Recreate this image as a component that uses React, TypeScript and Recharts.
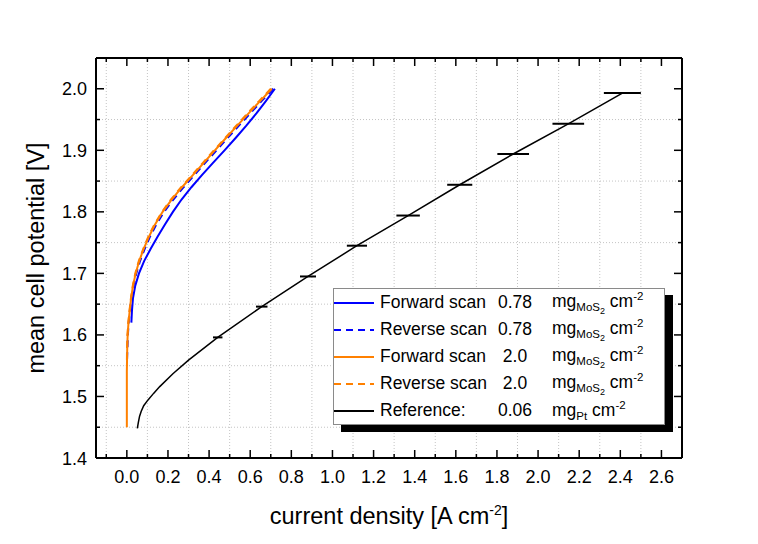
import React from "react";
import {
  ComposedChart,
  Line,
  Scatter,
  ErrorBar,
  XAxis,
  YAxis,
  CartesianGrid,
  Legend,
} from "recharts";

const FONT = "'Liberation Sans', Arial, Helvetica, sans-serif";

// 0.78 mg MoS2 forward scan
const fwd078J = [0.022, 0.025, 0.03, 0.041, 0.059, 0.084, 0.116, 0.15, 0.186, 0.224, 0.266, 0.314, 0.366, 0.42, 0.475, 0.529, 0.581, 0.63, 0.676, 0.72];
const fwd078V = [1.62, 1.64, 1.66, 1.68, 1.7, 1.72, 1.74, 1.76, 1.78, 1.8, 1.82, 1.84, 1.86, 1.88, 1.9, 1.92, 1.94, 1.96, 1.98, 2.0];

// 0.78 mg MoS2 reverse scan
const rev078J = [0.712, 0.655, 0.6, 0.545, 0.49, 0.436, 0.382, 0.329, 0.276, 0.226, 0.181, 0.144, 0.113, 0.087, 0.064, 0.046, 0.032, 0.022, 0.015, 0.009, 0.005, 0.003, 0.001];
const rev078V = [2.0, 1.98, 1.96, 1.94, 1.92, 1.9, 1.88, 1.86, 1.84, 1.82, 1.8, 1.78, 1.76, 1.74, 1.72, 1.7, 1.68, 1.66, 1.64, 1.62, 1.6, 1.58, 1.56];

// 2.0 mg MoS2 forward scan
const fwd20J = [0.0, 0.0, 0.0, 0.001, 0.002, 0.004, 0.008, 0.014, 0.021, 0.03, 0.043, 0.06, 0.082, 0.108, 0.138, 0.174, 0.218, 0.268, 0.322, 0.375, 0.428, 0.482, 0.537, 0.592, 0.648, 0.705];
const fwd20V = [1.45, 1.5, 1.54, 1.56, 1.58, 1.6, 1.62, 1.64, 1.66, 1.68, 1.7, 1.72, 1.74, 1.76, 1.78, 1.8, 1.82, 1.84, 1.86, 1.88, 1.9, 1.92, 1.94, 1.96, 1.98, 2.0];

// 2.0 mg MoS2 reverse scan
const rev20J = [0.7, 0.643, 0.587, 0.532, 0.478, 0.424, 0.371, 0.318, 0.264, 0.214, 0.171, 0.135, 0.105, 0.08, 0.058, 0.041, 0.029, 0.02, 0.013, 0.007, 0.003, 0.001, 0.0];
const rev20V = [2.0, 1.98, 1.96, 1.94, 1.92, 1.9, 1.88, 1.86, 1.84, 1.82, 1.8, 1.78, 1.76, 1.74, 1.72, 1.7, 1.68, 1.66, 1.64, 1.62, 1.6, 1.58, 1.55];

// Pt reference, with x error bars on the last nine points
const refJ = [0.051, 0.056, 0.062, 0.07, 0.082, 0.102, 0.13, 0.16, 0.224, 0.3, 0.442, 0.656, 0.881, 1.119, 1.368, 1.619, 1.879, 2.147, 2.41];
const refV = [1.448, 1.458, 1.468, 1.476, 1.485, 1.494, 1.505, 1.516, 1.537, 1.559, 1.596, 1.646, 1.695, 1.745, 1.794, 1.844, 1.894, 1.943, 1.993];
const refErr = [0.023, 0.028, 0.039, 0.049, 0.057, 0.061, 0.077, 0.077, 0.09];

const xTicks = [-0.1, 0, 0.1, 0.2, 0.3, 0.4, 0.5, 0.6, 0.7, 0.8, 0.9, 1.0, 1.1, 1.2, 1.3, 1.4, 1.5, 1.6, 1.7, 1.8, 1.9, 2.0, 2.1, 2.2, 2.3, 2.4, 2.5, 2.6, 2.7];
const yTicks = [1.4, 1.45, 1.5, 1.55, 1.6, 1.65, 1.7, 1.75, 1.8, 1.85, 1.9, 1.95, 2.0, 2.05];
const xGrid = [-0.1, 0.1, 0.3, 0.5, 0.7, 0.9, 1.1, 1.3, 1.5, 1.7, 1.9, 2.1, 2.3, 2.5];
const yGrid = [1.45, 1.55, 1.65, 1.75, 1.85, 1.95];

const legendNames = ["Forward scan", "Reverse scan", "Forward scan", "Reverse scan", "Reference:"];
const legendLoads = ["0.78", "0.78", "2.0", "2.0", "0.06"];
const legendCatalyst = ["MoS", "MoS", "MoS", "MoS", "Pt"];
const legendColors = ["#0000ff", "#0000ff", "#ff8000", "#ff8000", "#000000"];
const legendDashed = [false, true, false, true, false];

const toPoints = (js: number[], vs: number[]) => js.map((j, i) => ({ j, v: vs[i] }));
const errStart = refJ.length - refErr.length;
const refBars = refErr.map((err, i) => ({ j: refJ[errStart + i], v: refV[errStart + i], err }));

const isMajorX = (v: number) => Math.round(v * 10) % 2 === 0;
const isMajorY = (v: number) => Math.round(v * 100) % 10 === 0;
const MAJOR = 8;
const MINOR = 4;

const BottomTick = (props: any) => {
  const { x, y, payload } = props;
  const major = isMajorX(payload.value);
  return (
    <g>
      <line x1={x} x2={x} y1={y} y2={y - (major ? MAJOR : MINOR)} stroke="#000" strokeWidth={1.5} />
      {major && (
        <text x={x} y={y + 25} textAnchor="middle" fontSize={18} fontFamily={FONT} fill="#000">
          {payload.value.toFixed(1)}
        </text>
      )}
    </g>
  );
};

const TopTick = (props: any) => {
  const { x, y, payload } = props;
  const major = isMajorX(payload.value);
  return <line x1={x} x2={x} y1={y} y2={y + (major ? MAJOR : MINOR)} stroke="#000" strokeWidth={1.5} />;
};

const LeftTick = (props: any) => {
  const { x, y, payload } = props;
  const major = isMajorY(payload.value);
  return (
    <g>
      <line x1={x} x2={x + (major ? MAJOR : MINOR)} y1={y} y2={y} stroke="#000" strokeWidth={1.5} />
      {major && (
        <text x={x - 9} y={y + 6.5} textAnchor="end" fontSize={18} fontFamily={FONT} fill="#000">
          {payload.value.toFixed(1)}
        </text>
      )}
    </g>
  );
};

const RightTick = (props: any) => {
  const { x, y, payload } = props;
  const major = isMajorY(payload.value);
  return <line x1={x} x2={x - (major ? MAJOR : MINOR)} y1={y} y2={y} stroke="#000" strokeWidth={1.5} />;
};

const XTitle = (props: any) => {
  const vb = props.viewBox;
  return (
    <text x={vb.x + vb.width / 2} y={vb.y + 66} textAnchor="middle" fontSize={23.5} fontFamily={FONT} fill="#000">
      current density [A cm
      <tspan dy={-9} fontSize={14}>-2</tspan>
      <tspan dy={9}>]</tspan>
    </text>
  );
};

const YTitle = (props: any) => {
  const vb = props.viewBox;
  const x = vb.x - 2;
  const y = vb.y + vb.height / 2;
  return (
    <text x={x} y={y} transform={`rotate(-90, ${x}, ${y})`} textAnchor="middle" fontSize={23.5} fontFamily={FONT} fill="#000">
      mean cell potential [V]
    </text>
  );
};

const LegendBox = () => (
  <div
    style={{
      boxSizing: "border-box",
      width: 332,
      height: 137,
      background: "#fff",
      border: "1px solid #8a8a8a",
      boxShadow: "8px 7px 0 #000",
      fontFamily: FONT,
      fontSize: 17.5,
      color: "#000",
    }}
  >
    {legendNames.map((name, i) => (
      <div key={i} style={{ display: "flex", alignItems: "center", height: 27, whiteSpace: "nowrap" }}>
        <svg width={40} height={10} style={{ flex: "none" }}>
          <line
            x1={0}
            x2={40}
            y1={5}
            y2={5}
            stroke={legendColors[i]}
            strokeWidth={2}
            strokeDasharray={legendDashed[i] ? "7 5" : undefined}
          />
        </svg>
        <span style={{ width: 110, marginLeft: 6, flex: "none" }}>{name}</span>
        <span style={{ width: 50, textAlign: "center", flex: "none" }}>{legendLoads[i]}</span>
        <span style={{ marginLeft: 12 }}>
          mg
          <sub style={{ fontSize: 11.5, verticalAlign: -4 }}>
            {legendCatalyst[i]}
            {legendCatalyst[i] === "MoS" && <sub style={{ fontSize: 9, verticalAlign: -3 }}>2</sub>}
          </sub>{" "}
          cm<sup style={{ fontSize: 11.5, verticalAlign: 7 }}>-2</sup>
        </span>
      </div>
    ))}
  </div>
);

export default function App() {
  return (
    <div style={{ position: "absolute", left: 0, top: 0, width: 758, height: 544, background: "#fff" }}>
      <ComposedChart width={758} height={544} margin={{ top: 57, right: 75, bottom: 46, left: 46 }}>
        <CartesianGrid
          stroke="#c4c4c4"
          strokeDasharray="1 2"
          verticalValues={xGrid}
          horizontalValues={yGrid}
        />
        <XAxis
          type="number"
          dataKey="j"
          domain={[-0.15, 2.7]}
          allowDataOverflow
          ticks={xTicks}
          interval={0}
          height={40}
          tickSize={0}
          tickMargin={0}
          tickLine={false}
          tick={BottomTick}
          axisLine={{ stroke: "#000", strokeWidth: 2 }}
          label={XTitle}
        />
        <XAxis
          xAxisId="top"
          orientation="top"
          type="number"
          dataKey="j"
          domain={[-0.15, 2.7]}
          allowDataOverflow
          ticks={xTicks}
          interval={0}
          height={1}
          tickSize={0}
          tickMargin={0}
          tickLine={false}
          tick={TopTick}
          axisLine={{ stroke: "#000", strokeWidth: 2 }}
        />
        <YAxis
          type="number"
          dataKey="v"
          domain={[1.4, 2.05]}
          allowDataOverflow
          ticks={yTicks}
          interval={0}
          width={50}
          tickSize={0}
          tickMargin={0}
          tickLine={false}
          tick={LeftTick}
          axisLine={{ stroke: "#000", strokeWidth: 2 }}
          label={YTitle}
        />
        <YAxis
          yAxisId="right"
          orientation="right"
          type="number"
          dataKey="v"
          domain={[1.4, 2.05]}
          allowDataOverflow
          ticks={yTicks}
          interval={0}
          width={1}
          tickSize={0}
          tickMargin={0}
          tickLine={false}
          tick={RightTick}
          axisLine={{ stroke: "#000", strokeWidth: 2 }}
        />
        <Line data={toPoints(refJ, refV)} dataKey="v" type="linear" stroke="#000" strokeWidth={1.5} dot={false} isAnimationActive={false} />
        <Scatter
          data={refBars}
          dataKey="v"
          xAxisId="top"
          yAxisId="right"
          shape={() => <g />}
          isAnimationActive={false}
        >
          <ErrorBar dataKey="err" direction="x" width={0} stroke="#000" strokeWidth={2} />
        </Scatter>
        <Line data={toPoints(fwd078J, fwd078V)} dataKey="v" type="linear" stroke="#0000ff" strokeWidth={2} dot={false} isAnimationActive={false} />
        <Line data={toPoints(rev078J, rev078V)} dataKey="v" type="linear" stroke="#0000ff" strokeWidth={2} strokeDasharray="7 5" dot={false} isAnimationActive={false} />
        <Line data={toPoints(fwd20J, fwd20V)} dataKey="v" type="linear" stroke="#ff8000" strokeWidth={2} dot={false} isAnimationActive={false} />
        <Line data={toPoints(rev20J, rev20V)} dataKey="v" type="linear" stroke="#ff8000" strokeWidth={2} strokeDasharray="7 5" dot={false} isAnimationActive={false} />
        <Legend
          layout="horizontal"
          verticalAlign="middle"
          align="center"
          content={LegendBox}
          wrapperStyle={{ left: 333, top: 288, width: 342, height: 145 }}
        />
      </ComposedChart>
    </div>
  );
}
